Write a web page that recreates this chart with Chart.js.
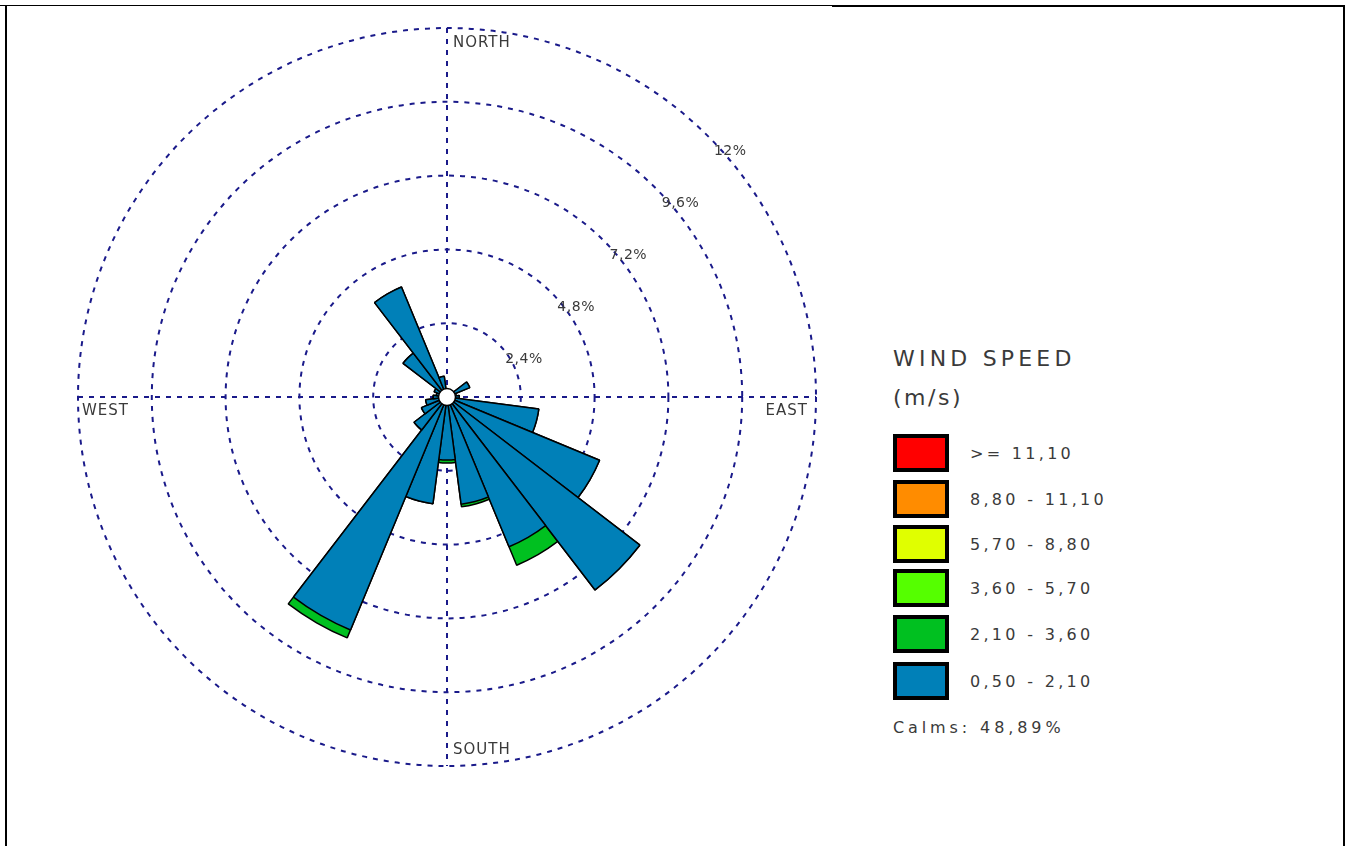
<!DOCTYPE html>
<html><head><meta charset="utf-8">
<script src="https://cdn.jsdelivr.net/npm/chart.js@4.4.1/dist/chart.umd.min.js"></script>
<style>
html,body{margin:0;padding:0;background:#fff;width:1351px;height:846px;overflow:hidden;position:relative;font-family:"DejaVu Sans",sans-serif;}
.fr{position:absolute;background:#000;}
#wrap{position:absolute;left:68px;top:18px;width:758px;height:758px;}
.lg{position:absolute;white-space:nowrap;color:#3a3a3a;}
.box{position:absolute;box-sizing:border-box;border:4px solid #000;width:56px;height:38px;}
</style></head><body>
<div class="fr" style="left:0;top:5px;width:832px;height:1px"></div>
<div class="fr" style="left:832px;top:5px;width:513px;height:2px"></div>
<div class="fr" style="left:5px;top:5px;width:2px;height:841px"></div>
<div class="fr" style="left:1343px;top:5px;width:2px;height:841px"></div>
<div id="wrap"><canvas id="c" width="758" height="758"></canvas></div>
<div id="legend"></div>
<script>
// 24 direction sectors (degrees, clockwise from north)
const directions = ['0°','15°','30°','45°','60°','75°','90°','105°','120°','135°','150°','165°',
                    '180°','195°','210°','225°','240°','255°','270°','285°','300°','315°','330°','345°'];
// frequency (%) per wind-speed class, per direction
const freq_050_210 = [0.25,0.15,0.15,0.15,0.8,0.3,0.4,3.01,5.37,7.91,5.27,3.52,
                      2.05,3.5,8.2,1.35,0.9,0.7,0.45,0.35,0.45,1.8,3.87,0.68];
const freq_210_360 = [0,0,0,0,0,0,0,0,0,0,0.65,0.08,
                      0.1,0,0.28,0,0,0,0,0,0,0,0,0];
const freq_360_570 = [0,0,0,0,0,0,0,0,0,0,0,0,0,0,0,0,0,0,0,0,0,0,0,0];
const freq_570_880 = [0,0,0,0,0,0,0,0,0,0,0,0,0,0,0,0,0,0,0,0,0,0,0,0];
const freq_880_1110 = [0,0,0,0,0,0,0,0,0,0,0,0,0,0,0,0,0,0,0,0,0,0,0,0];
const freq_1110_up = [0,0,0,0,0,0,0,0,0,0,0,0,0,0,0,0,0,0,0,0,0,0,0,0];
// classes, low to high
const classLabels = ['0,50 - 2,10','2,10 - 3,60','3,60 - 5,70','5,70 - 8,80','8,80 - 11,10','>= 11,10'];
const classColors = ['#0080b8','#00c020','#55ff00','#e0ff00','#ff8c00','#ff0000'];
const classSeries = [freq_050_210,freq_210_360,freq_360_570,freq_570_880,freq_880_1110,freq_1110_up];
const ringValues = [2.4,4.8,7.2,9.6,12];
const ringLabels = ['2,4%','4,8%','7,2%','9,6%','12%'];
const compassLabels = ['NORTH','EAST','SOUTH','WEST'];
const legendTitle = ['WIND SPEED','(m/s)'];
const calmsText = 'Calms: 48,89%';

const gridColor = '#1a1a8a';
const textColor = '#3a3a3a';

// stacked (cumulative) datasets; first dataset is drawn on top
let cum = directions.map(() => 0);
const datasets = [];
classSeries.forEach((s, k) => {
  cum = cum.map((v, i) => v + s[i]);
  if (s.some(v => v > 0)) {
    datasets.push({label: classLabels[k], data: cum.slice(), backgroundColor: classColors[k],
                   borderColor: '#000', borderWidth: 1.5});
  }
});

const compassPlugin = {
  id: 'compass',
  beforeDatasetsDraw(chart) {
    const s = chart.scales.r, ctx = chart.ctx;
    const cx = s.xCenter, cy = s.yCenter, R = s.getDistanceFromCenterForValue(s.max);
    ctx.save();
    ctx.strokeStyle = gridColor; ctx.lineWidth = 2; ctx.setLineDash([5,6]);
    ctx.beginPath();
    ctx.moveTo(cx, cy - R); ctx.lineTo(cx, cy + R);
    ctx.moveTo(cx - R, cy); ctx.lineTo(cx + R, cy);
    ctx.stroke();
    ctx.setLineDash([]);
    ctx.fillStyle = textColor;
    ctx.font = '15px "DejaVu Sans"';
    ctx.letterSpacing = '1px';
    ctx.textBaseline = 'middle';
    ctx.textAlign = 'left';
    ctx.fillText(compassLabels[0], cx + 6, cy - R + 15);
    ctx.fillText(compassLabels[2], cx + 6, cy + R - 16);
    ctx.fillText(compassLabels[3], cx - R + 4, cy + 14);
    ctx.textAlign = 'right';
    ctx.fillText(compassLabels[1], cx + R - 8, cy + 14);
    ctx.textAlign = 'left';
    ctx.font = '14px "DejaVu Sans"';
    ctx.letterSpacing = '0.5px';
    ringValues.forEach((v, i) => {
      const r = s.getDistanceFromCenterForValue(v);
      ctx.fillText(ringLabels[i], cx + r * Math.SQRT1_2 + 6, cy - r * Math.SQRT1_2 + 15);
    });
    ctx.restore();
  },
  afterDatasetsDraw(chart) {
    const s = chart.scales.r, ctx = chart.ctx;
    ctx.save();
    ctx.beginPath();
    ctx.arc(s.xCenter, s.yCenter, 8.5, 0, Math.PI * 2);
    ctx.fillStyle = '#fff'; ctx.fill();
    ctx.lineWidth = 1.5; ctx.strokeStyle = '#000'; ctx.stroke();
    ctx.restore();
  }
};

new Chart(document.getElementById('c'), {
  type: 'polarArea',
  data: {labels: directions, datasets},
  options: {
    responsive: false,
    animation: false,
    events: [],
    layout: {padding: 10},
    plugins: {legend: {display: false}, tooltip: {enabled: false}},
    scales: {
      r: {
        min: 0, max: 12, startAngle: -7.5,
        afterBuildTicks: sc => { sc.ticks = [0, ...ringValues].map(v => ({value: v})); },
        ticks: {display: false},
        pointLabels: {display: false},
        angleLines: {display: false},
        grid: {circular: true, color: gridColor, lineWidth: 2, borderDash: [5,6]},
        border: {dash: [5,6]}
      }
    }
  },
  plugins: [compassPlugin]
});

// legend (high to low)
const lg = document.getElementById('legend');
function addText(txt, x, cy, size, spacing, h) {
  const d = document.createElement('div');
  d.className = 'lg';
  d.textContent = txt;
  d.style.left = x + 'px';
  d.style.top = (cy - h / 2) + 'px';
  d.style.height = h + 'px';
  d.style.lineHeight = h + 'px';
  d.style.fontSize = size + 'px';
  d.style.letterSpacing = spacing + 'px';
  lg.appendChild(d);
}
addText(legendTitle[0], 893, 359, 22, 4.2, 30);
addText(legendTitle[1], 893, 398, 22, 2.5, 30);
const boxTops = [434, 480, 525, 569, 615, 662];
for (let j = 0; j < classLabels.length; j++) {
  const k = classLabels.length - 1 - j;
  const b = document.createElement('div');
  b.className = 'box';
  b.style.left = '893px';
  b.style.top = boxTops[j] + 'px';
  b.style.background = classColors[k];
  lg.appendChild(b);
  addText(classLabels[k], 970, boxTops[j] + 20, 16, 3.3, 24);
}
addText(calmsText, 893, 728, 16, 3.9, 24);
</script>
</body></html>
